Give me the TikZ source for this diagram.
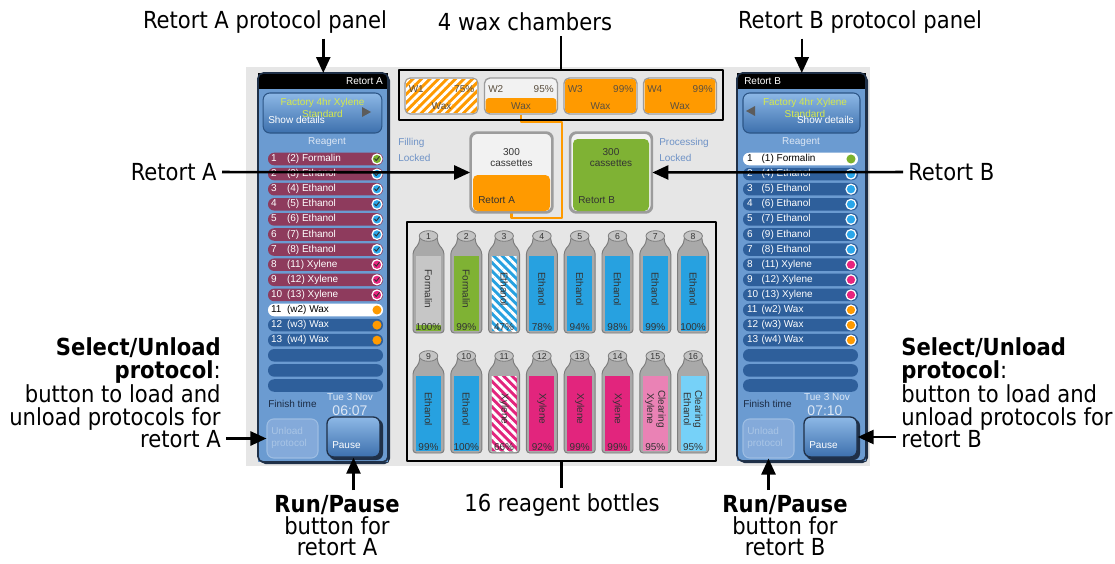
\documentclass[tikz,border=0pt]{standalone}
\usepackage{fontspec}
\setmainfont{DejaVu Sans Condensed}
\newfontfamily\uifont{Liberation Sans}
\usetikzlibrary{arrows.meta,calc,patterns.meta}
\definecolor{screen}{HTML}{E6E6E6}
\definecolor{panel}{HTML}{6B9BD1}
\definecolor{paneledge}{HTML}{1F3048}
\definecolor{rowred}{HTML}{8E3B5D}
\definecolor{rowblue}{HTML}{2E5F9B}
\definecolor{btntop}{HTML}{8DB8E6}
\definecolor{btnbot}{HTML}{3D70AD}
\definecolor{btnedge}{HTML}{2C5586}
\definecolor{fadebtn}{HTML}{84AADA}
\definecolor{fadeedge}{HTML}{9DBDE3}
\definecolor{fadetext}{HTML}{A9C5E6}
\definecolor{waxorange}{HTML}{FF9A00}
\definecolor{formgreen}{HTML}{7FB234}
\definecolor{ethblue}{HTML}{27A1E0}
\definecolor{xylpink}{HTML}{E2257D}
\definecolor{clrpink}{HTML}{EA82B5}
\definecolor{clrblue}{HTML}{76D1F8}
\definecolor{dotblue}{HTML}{2AA6EA}
\definecolor{dotpink}{HTML}{E8247E}
\definecolor{dotgreen}{HTML}{7CB22D}
\definecolor{protoyellow}{HTML}{D6E94A}
\definecolor{boxedge}{HTML}{9C9C9C}
\definecolor{boxfill}{HTML}{F2F2F2}
\definecolor{shellgray}{HTML}{A9A9A9}
\definecolor{shelledge}{HTML}{7C7C7C}
\definecolor{capgray}{HTML}{C4C4C4}
\definecolor{emptygray}{HTML}{C6C6C6}
\definecolor{ink}{HTML}{333333}
\definecolor{waxtext}{HTML}{5C5040}
\definecolor{statusblue}{HTML}{6E92C6}
\definecolor{navy}{HTML}{1B2B44}
\definecolor{pale}{HTML}{DCE7F5}

\begin{document}
\begin{tikzpicture}[x=0.75pt, y=-0.75pt, line join=round,
  note/.style={font=\fontsize{17.6}{16.9}\selectfont, inner sep=0pt, outer sep=4pt},
  ann/.style={line width=1.9pt, -{Triangle[length=12pt, width=10.5pt]}},
  annline/.style={line width=1.9pt},
  callout/.style={draw, line width=2pt, inner sep=0pt},
  ui/.style={font=\uifont\fontsize{7.5}{8.5}\selectfont, inner sep=0pt},
  header/.style={fill=black, inner sep=0pt, minimum width=97.5pt, minimum height=12pt},
  protobtn/.style={draw=btnedge, line width=0.8pt, rounded corners=5pt,
                   top color=btntop, bottom color=btnbot,
                   minimum width=89pt, minimum height=30pt, inner sep=0pt},
  rowbar/.style={rounded corners=4.6pt, minimum width=86.25pt,
                 minimum height=9.4pt, inner sep=0pt},
  pausebtn/.style={draw=paneledge, line width=1pt, rounded corners=5pt,
                   top color=btntop, bottom color=btnbot,
                   minimum width=39.75pt, minimum height=30pt, inner sep=0pt},
  unloadbtn/.style={draw=fadeedge, line width=0.8pt, rounded corners=5pt,
                    fill=fadebtn, minimum width=38.25pt, minimum height=29.25pt,
                    inner sep=0pt},
  chamber/.style={draw=boxedge, line width=1pt, fill=boxfill, rounded corners=4pt,
                  minimum width=54.75pt, minimum height=27pt, inner sep=0pt},
  retbox/.style={draw=boxedge, line width=1.3pt, fill=boxfill, rounded corners=5pt,
                 minimum width=60.75pt, minimum height=59.25pt, inner sep=0pt},
  shell/.style={draw=shelledge, fill=shellgray, line width=0.7pt, rounded corners=2.5pt},
  stripes/.style={pattern={Lines[angle=#1, distance=4.5pt, line width=2.1pt]},
                  pattern color=white},
  pipe/.style={waxorange, line width=1.6pt},
  checkmark/.style={ink, line width=0.7pt, line cap=round}]

\useasboundingbox (0,0) rectangle (1115,564);

% instrument screen
\fill[screen] (246,67) rectangle (870,466);

% ---- retort A panel ----
\fill[paneledge, rounded corners=4pt] (260,75) rectangle (390,464);
\fill[panel] (258,73) rectangle (388,462);
\node[header, anchor=north west] (hdrA) at (258,73) {};
\node[ui, text=white, anchor=east] (hdrAtxt) at (383,81) {Retort A};
\draw[paneledge, line width=1.2pt, rounded corners=4pt] (258,73) rectangle (388,462);

\node[protobtn] (protoA) at (322.5,113) {};
\node[ui, text=protoyellow] (protoAl1) at (322.5,103) {Factory 4hr Xylene};
\node[ui, text=protoyellow] (protoAl2) at (322.5,114) {Standard};
\node[ui, text=white, anchor=west] (showA) at (268,120) {Show details};
\fill[ink!80] (362,107) -- (371,112) -- (362,117) -- cycle;
\node[ui, text=pale] (reagA) at (327,142) {Reagent};

\foreach \k/\lbl/\rc/\tc/\dc/\mk in {
  1/(2) Formalin/rowred/white/dotgreen/1,
  2/(3) Ethanol/rowred/white/dotblue/1,
  3/(4) Ethanol/rowred/white/dotblue/1,
  4/(5) Ethanol/rowred/white/dotblue/1,
  5/(6) Ethanol/rowred/white/dotblue/1,
  6/(7) Ethanol/rowred/white/dotblue/1,
  7/(8) Ethanol/rowred/white/dotblue/1,
  8/(11) Xylene/rowred/white/dotpink/1,
  9/(12) Xylene/rowred/white/dotpink/1,
  10/(13) Xylene/rowred/white/dotpink/1,
  11/(w2) Wax/white/black/waxorange/2,
  12/(w3) Wax/rowblue/white/waxorange/2,
  13/(w4) Wax/rowblue/white/waxorange/2}
{
  \pgfmathsetmacro\ry{159+(\k-1)*15.1}
  \node[rowbar, fill=\rc] (rA\k) at (325.5,\ry) {};
  \node[ui, text=\tc, anchor=west] (tA\k) at ([xshift=2.3pt]rA\k.west)
    {\makebox[12pt][l]{\k}\lbl};
  \ifnum\mk=2
    \fill[\dc] (377,\ry) circle (3.4pt);
  \else
    \fill[white] (377,\ry) circle (4.2pt);
    \fill[\dc] (377,\ry) circle (3.1pt);
    \draw[checkmark] ([shift={(-1.8pt,0.3pt)}]377,\ry) -- ++(1.2pt,-1.5pt) -- ++(2.4pt,3pt);
  \fi
}
\foreach \k in {14,15,16}
  \node[rowbar, fill=rowblue] (rA\k) at (325.5,{159+(\k-1)*15.1}) {};

\node[ui, text=navy, anchor=west] (finA) at (268,404) {Finish time};
\node[ui, text=pale] (dayA) at (350,397) {Tue 3 Nov};
\node[ui, text=pale, font=\uifont\fontsize{10.5}{11}\selectfont] (timeA) at (350,411) {06:07};

\node[unloadbtn] (unlA) at (292.5,438.5) {};
\node[ui, text=fadetext, align=left, anchor=west] (unlAtxt) at (271,438) {Unload\\protocol};
\fill[paneledge, rounded corners=5pt] (329,419) rectangle (383,460);
\node[pausebtn] (pauA) at (353.5,437) {};
\node[ui, text=white, anchor=west] (pauAtxt) at (332,445) {Pause};

% ---- retort B panel ----
\fill[paneledge, rounded corners=4pt] (739,75) rectangle (868,463);
\fill[panel] (737,73) rectangle (866,461);
\node[header, anchor=north west, minimum width=96.75pt] (hdrB) at (737,73) {};
\node[ui, text=white, anchor=west] (hdrBtxt) at (744,81) {Retort B};
\draw[paneledge, line width=1.2pt, rounded corners=4pt] (737,73) rectangle (866,461);

\node[protobtn, minimum width=87.75pt] (protoB) at (801.5,113) {};
\node[ui, text=protoyellow] (protoBl1) at (805,103) {Factory 4hr Xylene};
\node[ui, text=protoyellow] (protoBl2) at (805,114) {Standard};
\node[ui, text=white, anchor=east] (showB) at (854,120) {Show details};
\fill[ink!80] (755,106) -- (746,111) -- (755,116) -- cycle;
\node[ui, text=pale] (reagB) at (801,142) {Reagent};

\foreach \k/\lbl/\rc/\tc/\dc/\mk in {
  1/(1) Formalin/white/black/dotgreen/2,
  2/(4) Ethanol/rowblue/white/dotblue/0,
  3/(5) Ethanol/rowblue/white/dotblue/0,
  4/(6) Ethanol/rowblue/white/dotblue/0,
  5/(7) Ethanol/rowblue/white/dotblue/0,
  6/(9) Ethanol/rowblue/white/dotblue/0,
  7/(8) Ethanol/rowblue/white/dotblue/0,
  8/(11) Xylene/rowblue/white/dotpink/0,
  9/(12) Xylene/rowblue/white/dotpink/0,
  10/(13) Xylene/rowblue/white/dotpink/0,
  11/(w2) Wax/rowblue/white/waxorange/0,
  12/(w3) Wax/rowblue/white/waxorange/0,
  13/(w4) Wax/rowblue/white/waxorange/0}
{
  \pgfmathsetmacro\ry{159+(\k-1)*15.1}
  \node[rowbar, fill=\rc] (rB\k) at (800.5,\ry) {};
  \node[ui, text=\tc, anchor=west] (tB\k) at ([xshift=3pt]rB\k.west)
    {\makebox[11pt][l]{\k}\lbl};
  \ifnum\mk=2
    \fill[\dc] (851,\ry) circle (3.4pt);
  \else
    \fill[white] (851,\ry) circle (4.2pt);
    \fill[\dc] (851,\ry) circle (3.1pt);
  \fi
}
\foreach \k in {14,15,16}
  \node[rowbar, fill=rowblue] (rB\k) at (800.5,{159+(\k-1)*15.1}) {};

\node[ui, text=navy, anchor=west] (finB) at (743,404) {Finish time};
\node[ui, text=pale] (dayB) at (827,397) {Tue 3 Nov};
\node[ui, text=pale, font=\uifont\fontsize{10.5}{11}\selectfont] (timeB) at (825,411) {07:10};

\node[unloadbtn] (unlB) at (768.5,438.5) {};
\node[ui, text=fadetext, align=left, anchor=west] (unlBtxt) at (747,438) {Unload\\protocol};
\fill[paneledge, rounded corners=5pt] (806,419) rectangle (860,460);
\node[pausebtn] (pauB) at (830.5,437) {};
\node[ui, text=white, anchor=west] (pauBtxt) at (809,445) {Pause};

% ---- wax chambers ----
\foreach \i/\cx/\pc in {1/441.5/75, 2/521/95, 3/600.5/99, 4/680/99}
  \node[chamber] (wax\i) at (\cx,96) {};
\fill[waxorange, rounded corners=2.5pt] ([shift={(1.3pt,-1.3pt)}]wax1.north west) rectangle ([shift={(-1.3pt,1.3pt)}]wax1.south east);
\fill[stripes=45, rounded corners=2.5pt] ([shift={(1.3pt,-1.3pt)}]wax1.north west) rectangle ([shift={(-1.3pt,1.3pt)}]wax1.south east);
\fill[waxorange, rounded corners=2.5pt] ([shift={(1.3pt,-1.5pt)}]wax2.west) rectangle ([shift={(-1.3pt,1.3pt)}]wax2.south east);
\foreach \i in {3,4}
  \fill[waxorange, rounded corners=2.5pt] ([shift={(1.3pt,-1.3pt)}]wax\i.north west) rectangle ([shift={(-1.3pt,1.3pt)}]wax\i.south east);
\foreach \i/\cx/\pc in {1/441.5/75, 2/521/95, 3/600.5/99, 4/680/99} {
  \node[ui, text=waxtext, anchor=west] (wid\i) at (\cx-33,89) {W\i};
  \node[ui, text=waxtext, anchor=east] (wpc\i) at (\cx+33,89) {\pc\%};
  \node[ui, text=waxtext] (wlb\i) at (\cx,106) {Wax};
}

% ---- retorts ----
\node[retbox] (retA) at (511.5,172.5) {};
\node[retbox] (retB) at (611,172.5) {};
\coordinate (pipeturn) at (562,218);
\draw[pipe] (wax2.south) |- (562,122) -- (pipeturn) -| (retA.south);
\fill[waxorange, rounded corners=3.5pt] (473,175) rectangle (550,211);
\fill[formgreen, rounded corners=3.5pt] (573,139) rectangle (649,211);
\draw[boxedge, line width=1.3pt, rounded corners=5pt] (retA.north west) rectangle (retA.south east);
\draw[boxedge, line width=1.3pt, rounded corners=5pt] (retB.north west) rectangle (retB.south east);
\node[ui, text=ink] (retAn) at (511.5,152) {300};
\node[ui, text=ink] (retAc) at (511.5,163) {cassettes};
\node[ui, text=ink, anchor=west] (retAname) at (478,200) {Retort A};
\node[ui, text=ink] (retBn) at (611,152) {300};
\node[ui, text=ink] (retBc) at (611,163) {cassettes};
\node[ui, text=ink, anchor=west] (retBname) at (578,200) {Retort B};
\node[ui, text=statusblue, anchor=west] (stA1) at (398,143) {Filling};
\node[ui, text=statusblue, anchor=west] (stA2) at (398,158) {Locked};
\node[ui, text=statusblue, anchor=west] (stB1) at (659,143) {Processing};
\node[ui, text=statusblue, anchor=west] (stB2) at (659,158) {Locked};

% ---- reagent bottles ----
\foreach \n/\cx/\cy/\liq/\lbl/\pct/\hatch in {
  1/428.5/236/emptygray/Formalin/100/0,
  2/466.3/236/formgreen/Formalin/99/0,
  3/504.1/236/ethblue/Ethanol/47/1,
  4/541.9/236/ethblue/Ethanol/78/0,
  5/579.7/236/ethblue/Ethanol/94/0,
  6/617.5/236/ethblue/Ethanol/98/0,
  7/655.3/236/ethblue/Ethanol/99/0,
  8/693.1/236/ethblue/Ethanol/100/0,
  9/428.5/356/ethblue/Ethanol/99/0,
  10/466.3/356/ethblue/Ethanol/100/0,
  11/504.1/356/xylpink/Xylene/66/1,
  12/541.9/356/xylpink/Xylene/92/0,
  13/579.7/356/xylpink/Xylene/99/0,
  14/617.5/356/xylpink/Xylene/99/0,
  15/655.3/356/clrpink/{Clearing\\Xylene}/95/0,
  16/693.1/356/clrblue/{Clearing\\Ethanol}/95/0}
{
  \begin{scope}[shift={(\cx,\cy)}]
    \draw[shell] (-15.5,97) -- (-15.5,15) -- (-9,7) -- (-9,0) -- (9,0)
      -- (9,7) -- (15.5,15) -- (15.5,97) -- cycle;
    \fill[\liq] (-12.5,20) rectangle (12.5,95);
    \ifnum\hatch=1 \fill[stripes=-45] (-12.5,20) rectangle (12.5,95); \fi
    \ifnum\n=1 \fill[formgreen] (-12.5,89) rectangle (12.5,95); \fi
    \draw[shelledge, fill=capgray, line width=0.6pt] (0,0) ellipse (7pt and 4pt);
    \node[ui, text=ink, font=\uifont\fontsize{6.5}{7}\selectfont] (bn\n) at (0,0.5) {\n};
    \node[ui, text=ink, rotate=-90, align=center] (bl\n) at (0,53) {\lbl};
    \node[ui, text=ink] (bp\n) at (0,91) {\pct\%};
  \end{scope}
}

% ---- callouts ----
\node[callout, minimum width=243pt, minimum height=37.5pt] (waxbox) at (561,95) {};
\node[callout, minimum width=231.75pt, minimum height=179.25pt] (bottlebox) at (561.5,341.5) {};

\node[note] (lblpanelA) at (265,22) {Retort A protocol panel};
\draw[ann] (hdrA.north |- lblpanelA.south) -- (hdrA.north);
\node[note] (lblwax) at (525,22) {4 wax chambers};
\draw[annline] (waxbox.north |- lblwax.south) -- (waxbox.north);
\node[note] (lblpanelB) at (860,22) {Retort B protocol panel};
\draw[ann] (hdrB.north |- lblpanelB.south) -- (hdrB.north);

\node[note, anchor=east] (lblretA) at (222,172) {Retort A};
\draw[ann] (lblretA.east) -- (retA.west);
\node[note, anchor=west] (lblretB) at (903,172) {Retort B};
\draw[ann] (lblretB.west) -- (retB.east);

\node[note] (lblbottles) at (562,505) {16 reagent bottles};
\draw[annline] (bottlebox.south) -- (bottlebox.south |- lblbottles.north);

\node[note, anchor=east, align=right] (selA) at (226,393)
  {\textbf{Select/Unload}\\\textbf{protocol}:\\button to load and\\unload protocols for\\retort A};
\draw[ann] (selA.east |- unlA.west) -- (unlA.west);
\node[note, anchor=west, align=left] (selB) at (896,393)
  {\textbf{Select/Unload}\\\textbf{protocol}:\\button to load and\\unload protocols for\\retort B};
\draw[ann] (selB.west |- pauB.east) -- (pauB.east);

\node[note, anchor=north, align=center, font=\fontsize{17.6}{16.2}\selectfont] (runA) at (337,490)
  {\textbf{Run/Pause}\\button for\\retort A};
\draw[ann] (pauA.south |- runA.north) -- (pauA.south);
\node[note, anchor=north, align=center, font=\fontsize{17.6}{16.2}\selectfont] (runB) at (785,490)
  {\textbf{Run/Pause}\\button for\\retort B};
\draw[ann] (unlB.south |- runB.north) -- (unlB.south);

\end{tikzpicture}
\end{document}
